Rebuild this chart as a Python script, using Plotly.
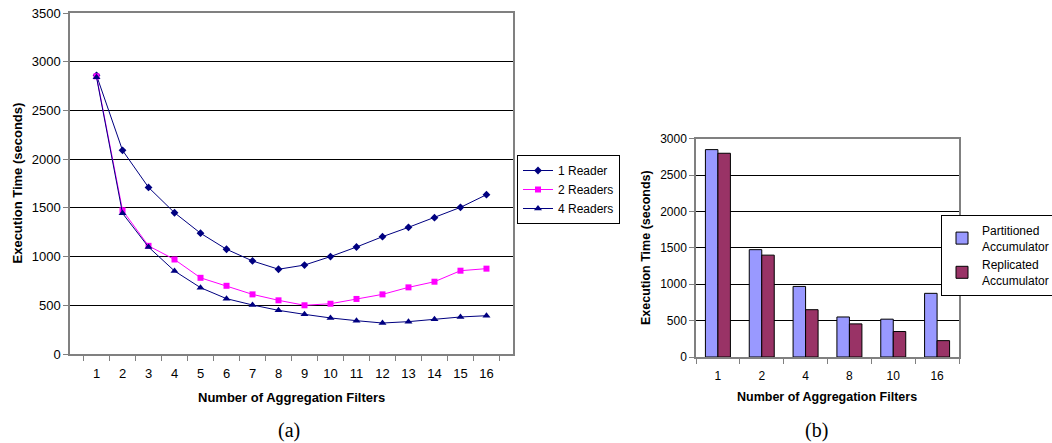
import plotly.graph_objects as go

# ---- data ----
filters_a = [str(i) for i in range(1, 17)]
reader1 = [2860, 2090, 1710, 1450, 1240, 1075, 955, 870, 913, 1000, 1098, 1204, 1300, 1399, 1505, 1635]
reader2 = [2850, 1475, 1110, 970, 782, 700, 612, 551, 500, 516, 565, 612, 684, 742, 855, 876]
reader4 = [2840, 1444, 1098, 852, 681, 568, 503, 448, 407, 370, 342, 318, 332, 356, 380, 393]

filters_b = ["1", "2", "4", "8", "10", "16"]
partitioned = [2850, 1475, 970, 550, 520, 875]
replicated = [2800, 1400, 650, 455, 350, 225]

W, H = 1052, 443
FONT = "Liberation Sans, Arial, sans-serif"

def px_x(x):
    return x / W

def px_y(y):
    return (H - y) / H

fig = go.Figure()

fig.add_trace(go.Scatter(x=filters_a, y=reader1, name="1 Reader", mode="lines+markers",
                         line=dict(color="#000080", width=1),
                         marker=dict(symbol="diamond", size=6, color="#000080"),
                         xaxis="x", yaxis="y", legend="legend"))
fig.add_trace(go.Scatter(x=filters_a, y=reader2, name="2 Readers", mode="lines+markers",
                         line=dict(color="#FF00FF", width=1),
                         marker=dict(symbol="square", size=6, color="#FF00FF"),
                         xaxis="x", yaxis="y", legend="legend"))
fig.add_trace(go.Scatter(x=filters_a, y=reader4, name="4 Readers", mode="lines+markers",
                         line=dict(color="#000080", width=1),
                         marker=dict(symbol="triangle-up", size=7, color="#000080"),
                         xaxis="x", yaxis="y", legend="legend"))

fig.add_trace(go.Bar(x=filters_b, y=partitioned, name="Partitioned<br>Accumulator",
                     marker=dict(color="#9999FF", line=dict(color="#000000", width=1)),
                     xaxis="x2", yaxis="y2", legend="legend2"))
fig.add_trace(go.Bar(x=filters_b, y=replicated, name="Replicated<br>Accumulator",
                     marker=dict(color="#993366", line=dict(color="#000000", width=1)),
                     xaxis="x2", yaxis="y2", legend="legend2"))

axis_common = dict(showline=True, linecolor="#808080", linewidth=1.5, mirror=True,
                   ticks="outside", tickcolor="#808080", ticklen=5, zeroline=False)

fig.update_layout(
    width=W, height=H,
    margin=dict(l=0, r=0, t=0, b=0, autoexpand=False),
    paper_bgcolor="white", plot_bgcolor="white",
    font=dict(family=FONT, color="black"),
    bargap=0.43, bargroupgap=0,
    xaxis=dict(domain=[px_x(70), px_x(513)], type="category", tickson="boundaries",
               showgrid=False, tickfont=dict(size=13), ticklabelstandoff=7,
               anchor="y", **axis_common),
    yaxis=dict(domain=[px_y(354), px_y(13)], range=[0, 3500], dtick=500,
               showgrid=True, gridcolor="#000000", gridwidth=1,
               tickfont=dict(size=13), anchor="x", **axis_common),
    xaxis2=dict(domain=[px_x(696), px_x(959)], type="category", tickson="boundaries",
                showgrid=False, tickfont=dict(size=12), ticklabelstandoff=7,
                anchor="y2", **axis_common),
    yaxis2=dict(domain=[px_y(357), px_y(138.7)], range=[0, 3000], dtick=500,
                showgrid=True, gridcolor="#000000", gridwidth=1,
                tickfont=dict(size=12), anchor="x2", **axis_common),
    legend=dict(x=px_x(517), y=px_y(155), xanchor="left", yanchor="top",
                bordercolor="#000000", borderwidth=1, bgcolor="white",
                font=dict(size=12, family=FONT), itemwidth=30,
                tracegroupgap=0),
    legend2=dict(x=px_x(941), y=px_y(215), xanchor="left", yanchor="top",
                 bordercolor="#000000", borderwidth=1, bgcolor="white",
                 font=dict(size=12, family=FONT), itemwidth=30,
                 tracegroupgap=0),
    showlegend=True,
)

ann = []
ann.append(dict(text="<b>Execution Time (seconds)</b>", x=px_x(17), y=px_y(183.5),
                xref="paper", yref="paper", textangle=-90, showarrow=False,
                font=dict(size=13, family=FONT), xanchor="center", yanchor="middle"))
ann.append(dict(text="<b>Number of Aggregation Filters</b>", x=px_x(291.5), y=px_y(397),
                xref="paper", yref="paper", showarrow=False,
                font=dict(size=13, family=FONT), xanchor="center", yanchor="middle"))
ann.append(dict(text="<b>Execution Time (seconds)</b>", x=px_x(646), y=px_y(248),
                xref="paper", yref="paper", textangle=-90, showarrow=False,
                font=dict(size=12.5, family=FONT), xanchor="center", yanchor="middle"))
ann.append(dict(text="<b>Number of Aggregation Filters</b>", x=px_x(827), y=px_y(397),
                xref="paper", yref="paper", showarrow=False,
                font=dict(size=12.5, family=FONT), xanchor="center", yanchor="middle"))
ann.append(dict(text="(a)", x=px_x(289), y=px_y(430), xref="paper", yref="paper",
                showarrow=False, font=dict(size=20, family="Liberation Serif, Times New Roman, serif"),
                xanchor="center", yanchor="middle"))
ann.append(dict(text="(b)", x=px_x(816), y=px_y(430), xref="paper", yref="paper",
                showarrow=False, font=dict(size=20, family="Liberation Serif, Times New Roman, serif"),
                xanchor="center", yanchor="middle"))
fig.update_layout(annotations=ann)

fig.write_html("out.html",
               config={"displayModeBar": False},
               post_script="document.body.style.margin='0';document.body.style.overflow='hidden';")
